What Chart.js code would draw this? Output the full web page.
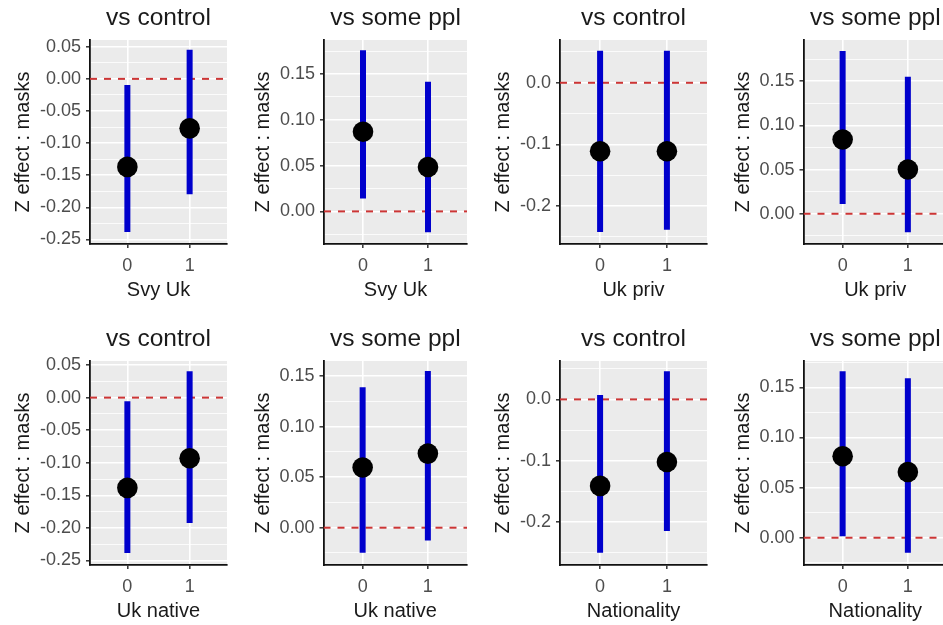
<!DOCTYPE html>
<html>
<head>
<meta charset="utf-8">
<script src="https://cdn.jsdelivr.net/npm/chart.js@4/dist/chart.umd.min.js"></script>
<style>
    html, body { margin: 0; padding: 0; background: #fff; overflow: hidden; }
    #grid { position: relative; width: 943px; height: 625px; overflow: hidden; }
    #grid canvas { position: absolute; }
</style>
</head>
<body>
<div id="grid"></div>
<script>
// panels left-to-right, top-to-bottom
const panelTitles = ['vs control', 'vs some ppl', 'vs control', 'vs some ppl',
                     'vs control', 'vs some ppl', 'vs control', 'vs some ppl'];
const xTitles = ['Svy Uk', 'Svy Uk', 'Uk priv', 'Uk priv',
                 'Uk native', 'Uk native', 'Nationality', 'Nationality'];
const yTitle = 'Z effect : masks';
const groups = ['0', '1'];

// point estimate for group 0 / group 1
const estimates = [
    [-0.137, -0.077], [0.087, 0.0485], [-0.111, -0.111], [0.084, 0.050],
    [-0.1385, -0.093], [0.0595, 0.0733], [-0.141, -0.102], [0.0813, 0.0656]
];
const lower = [
    [-0.2382, -0.1794], [0.014, -0.0227], [-0.242, -0.2385], [0.011, -0.021],
    [-0.2385, -0.1923], [-0.0248, -0.0126], [-0.250, -0.2145], [0.0016, -0.015]
];
const upper = [
    [-0.0094, 0.0452], [0.176, 0.1416], [0.052, 0.052], [0.184, 0.155],
    [-0.0057, 0.0405], [0.139, 0.155], [0.007, 0.046], [0.166, 0.159]
];

// y axis limits
const yMin = [-0.257, -0.0356, -0.2615, -0.0342, -0.2569, -0.0369, -0.270, -0.0272];
const yMax = [0.0605, 0.1872, 0.0694, 0.1965, 0.0562, 0.1649, 0.0626, 0.1763];

const ticksA = ['0.05', '0.00', '-0.05', '-0.10', '-0.15', '-0.20', '-0.25'];
const ticksB = ['0.00', '0.05', '0.10', '0.15'];
const ticksC = ['0.0', '-0.1', '-0.2'];
const yTickLabels = [ticksA, ticksB, ticksC, ticksB, ticksA, ticksB, ticksC, ticksB];

// layout
const CELL_W = 240, CELL_H = 305, ROW_GAP = 321;
const yAxisWidth = [90, 84, 80, 83.5, 90, 83.5, 80, 83.5];
const X_MIN = -0.6, X_MAX = 1.6;
const FONT = "'Liberation Sans', Arial, sans-serif";

const panelBg = {
    id: 'panelBg',
    beforeDraw(chart) {
        const { ctx, chartArea: a } = chart;
        ctx.save();
        ctx.fillStyle = '#ebebeb';
        ctx.fillRect(a.left, a.top, a.width, a.height);
        ctx.restore();
    }
};

function yTickValues(i) {
    const majors = yTickLabels[i].map(Number).sort((a, b) => a - b);
    const step = majors[1] - majors[0];
    const all = [];
    for (let v = majors[0] - step / 2; v <= yMax[i] + 1e-9; v += step / 2) {
        if (v >= yMin[i] - 1e-9) all.push(+v.toFixed(4));
    }
    return all;
}

function yLabel(i, v) {
    const hit = yTickLabels[i].find(t => Math.abs(Number(t) - v) < 1e-6);
    return hit === undefined ? '' : hit;
}

function buildPanel(i) {
    const canvas = document.createElement('canvas');
    canvas.width = CELL_W;
    canvas.height = CELL_H;
    canvas.style.left = (i % 4) * CELL_W + 'px';
    canvas.style.top = Math.floor(i / 4) * ROW_GAP + 'px';
    document.getElementById('grid').appendChild(canvas);

    const datasets = [{
        data: groups.map((g, j) => ({ x: j, y: estimates[i][j] })),
        backgroundColor: '#000',
        borderWidth: 0,
        pointRadius: 10.3,
        pointHoverRadius: 10.3,
        order: 0
    }];
    groups.forEach((g, j) => datasets.push({
        data: [{ x: j, y: lower[i][j] }, { x: j, y: upper[i][j] }],
        showLine: true,
        borderColor: '#0000cc',
        borderWidth: 6,
        borderCapStyle: 'butt',
        pointRadius: 0,
        order: 1
    }));
    datasets.push({
        data: [{ x: X_MIN, y: 0 }, { x: X_MAX, y: 0 }],
        showLine: true,
        borderColor: '#cc3535',
        borderWidth: 2,
        borderDash: [7, 7],
        pointRadius: 0,
        order: 2
    });

    const isMajor = ctx => ctx.tick && ctx.tick.label !== '';

    new Chart(canvas, {
        type: 'scatter',
        data: { datasets },
        plugins: [panelBg],
        options: {
            responsive: false,
            animation: false,
            layout: { padding: { left: 0, right: 13, top: 0, bottom: 0 } },
            plugins: {
                legend: { display: false },
                tooltip: { enabled: false },
                title: {
                    display: true,
                    text: panelTitles[i],
                    color: '#1a1a1a',
                    font: { family: FONT, size: 24.5, weight: 'normal' },
                    padding: { top: 4, bottom: 6.6 },
                    fullSize: false
                }
            },
            scales: {
                x: {
                    type: 'linear',
                    min: X_MIN,
                    max: X_MAX,
                    afterBuildTicks: s => { s.ticks = groups.map((g, j) => ({ value: j })); },
                    afterFit: s => { s.height = 61; },
                    ticks: {
                        callback: v => groups[v],
                        color: '#4d4d4d',
                        font: { family: FONT, size: 18 },
                        padding: 7,
                        autoSkip: false,
                        maxRotation: 0
                    },
                    grid: { color: '#fff', lineWidth: 1.6, tickColor: '#333', tickLength: 4, tickWidth: 1.5 },
                    border: { color: '#111', width: 1.8 },
                    title: {
                        display: true,
                        text: xTitles[i],
                        color: '#1a1a1a',
                        font: { family: FONT, size: 20 },
                        padding: { top: 0, bottom: 2.2 }
                    }
                },
                y: {
                    min: yMin[i],
                    max: yMax[i],
                    afterBuildTicks: s => { s.ticks = yTickValues(i).map(v => ({ value: v })); },
                    afterFit: s => { s.width = yAxisWidth[i]; },
                    ticks: {
                        callback: v => yLabel(i, v),
                        color: '#4d4d4d',
                        font: { family: FONT, size: 18 },
                        padding: 5,
                        autoSkip: false
                    },
                    grid: {
                        color: '#fff',
                        lineWidth: ctx => isMajor(ctx) ? 1.6 : 0.8,
                        tickColor: ctx => isMajor(ctx) ? '#333' : 'rgba(0,0,0,0)',
                        tickLength: 4,
                        tickWidth: 1.5
                    },
                    border: { color: '#111', width: 1.8 },
                    title: {
                        display: true,
                        text: yTitle,
                        color: '#1a1a1a',
                        font: { family: FONT, size: 20 },
                        padding: { top: 11.5, bottom: 0 }
                    }
                }
            }
        }
    });
}

panelTitles.forEach((t, i) => buildPanel(i));
</script>
</body>
</html>
